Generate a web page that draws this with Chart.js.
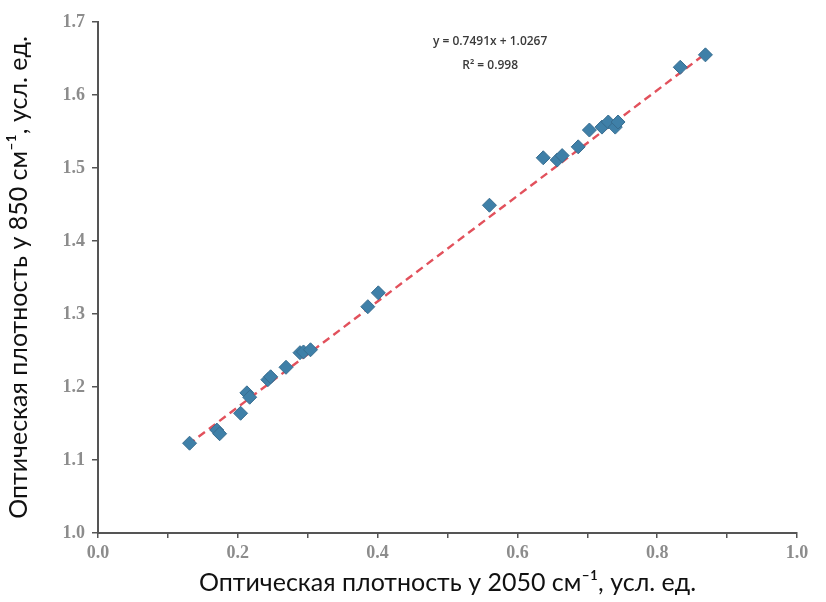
<!DOCTYPE html>
<html>
<head>
<meta charset="utf-8">
<script src="https://cdn.jsdelivr.net/npm/chart.js@4.4.1/dist/chart.umd.min.js"></script>
<style>
  html, body { margin: 0; padding: 0; background: #fff; }
  #wrap { width: 826px; height: 602px; }
</style>
</head>
<body>
<div id="wrap"><canvas id="chart" width="826" height="602"></canvas></div>
<script>
// optical density at 2050 cm-1 (x) vs 850 cm-1 (y)
const xVals = [0.131, 0.170, 0.174, 0.204, 0.213, 0.217, 0.243, 0.247, 0.269, 0.289, 0.294, 0.304, 0.386, 0.401,
               0.560, 0.637, 0.657, 0.664, 0.687, 0.703, 0.721, 0.730, 0.740, 0.744, 0.833, 0.869];
const yVals = [1.123, 1.141, 1.136, 1.164, 1.192, 1.186, 1.210, 1.214, 1.227, 1.247, 1.248, 1.251, 1.310, 1.329,
               1.449, 1.514, 1.511, 1.517, 1.529, 1.552, 1.556, 1.563, 1.556, 1.563, 1.638, 1.655];

// linear trend, ends
const trendX = [0.129, 0.871];
const trendY = [1.121, 1.658];

const eqLines = ['y = 0.7491x + 1.0267', 'R² = 0.998'];

const xTitle = 'Оптическая плотность у 2050 см⁻¹, усл. ед.';
const yTitle = 'Оптическая плотность у 850 см⁻¹, усл. ед.';

const points = xVals.map((x, i) => ({ x: x, y: yVals[i] }));
const trend = trendX.map((x, i) => ({ x: x, y: trendY[i] }));

// equation label near the top of the plot
const eqPlugin = {
    id: 'eqLabel',
    afterDatasetsDraw(chart) {
        const c = chart.ctx;
        const xs = chart.scales.x, ys = chart.scales.y;
        const cx = xs.getPixelForValue(0.561);
        c.save();
        c.font = '600 12px "Open Sans"';
        c.fillStyle = '#3a3a3a';
        c.textAlign = 'center';
        c.textBaseline = 'middle';
        c.fillText(eqLines[0], cx, ys.getPixelForValue(1.673));
        c.fillText(eqLines[1], cx, ys.getPixelForValue(1.640));
        c.restore();
    }
};

new Chart(document.getElementById('chart'), {
    type: 'scatter',
    data: {
        datasets: [
            {
                label: 'trend',
                type: 'line',
                data: trend,
                borderColor: '#e2515c',
                borderWidth: 2.4,
                borderDash: [8, 5],
                pointRadius: 0,
                fill: false,
                order: 2
            },
            {
                label: 'data',
                data: points,
                pointStyle: 'rectRot',
                pointRadius: 7,
                backgroundColor: '#3f80a8',
                borderColor: '#386d90',
                borderWidth: 1,
                order: 1
            }
        ]
    },
    options: {
        responsive: false,
        animation: false,
        layout: { padding: { top: 22, right: 29, left: 0, bottom: 0 } },
        plugins: {
            legend: { display: false },
            tooltip: { enabled: false }
        },
        scales: {
            x: {
                type: 'linear',
                min: 0,
                max: 1,
                border: { color: '#555', width: 2 },
                grid: { drawOnChartArea: false, drawTicks: true, tickLength: 5, color: '#555', lineWidth: 1.5 },
                ticks: {
                    stepSize: 0.1,
                    autoSkip: false,
                    maxRotation: 0,
                    padding: 5,
                    color: '#8c8c8c',
                    font: { family: 'Liberation Serif', size: 18, weight: 'bold' },
                    callback: v => (Math.round(v * 10) % 2 === 0 ? v.toFixed(1) : '')
                },
                title: {
                    display: true,
                    text: xTitle,
                    color: '#111',
                    font: { family: 'Lato', size: 25 },
                    padding: { top: 0, bottom: 4 }
                },
                afterFit: s => { s.height = 69; }
            },
            y: {
                type: 'linear',
                min: 1,
                max: 1.7,
                border: { color: '#555', width: 2 },
                grid: { drawOnChartArea: false, drawTicks: true, tickLength: 6, color: '#555', lineWidth: 1.5 },
                ticks: {
                    stepSize: 0.1,
                    autoSkip: false,
                    padding: 7,
                    color: '#8c8c8c',
                    font: { family: 'Liberation Serif', size: 18, weight: 'bold' },
                    callback: v => v.toFixed(1)
                },
                title: {
                    display: true,
                    text: yTitle,
                    color: '#111',
                    font: { family: 'Lato', size: 25 },
                    padding: { top: 4, bottom: 0 }
                },
                afterFit: s => { s.width = 98; }
            }
        }
    },
    plugins: [eqPlugin]
});
</script>
</body>
</html>
